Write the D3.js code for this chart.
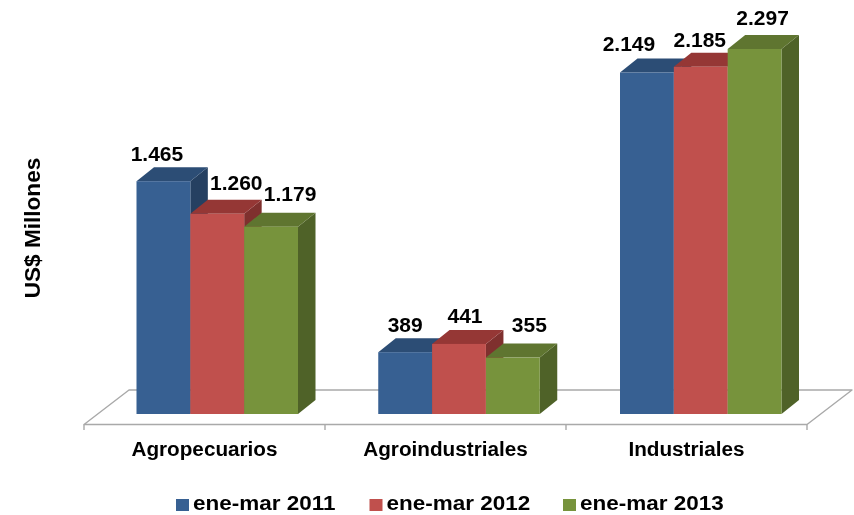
<!DOCTYPE html>
<html><head><meta charset="utf-8">
<script src="https://cdn.jsdelivr.net/npm/d3@7"></script>
<style>html,body{margin:0;padding:0;background:#fff}svg{display:block;filter:blur(0.35px)}text{font-family:"Liberation Sans",Arial,sans-serif;font-weight:bold;fill:#000}</style>
</head><body><svg id="c" width="854" height="515"></svg>
<script>
const categories = ["Agropecuarios","Agroindustriales","Industriales"];
const seriesNames = ["ene-mar 2011","ene-mar 2012","ene-mar 2013"];
const values2011 = [1465,389,2149];
const values2012 = [1260,441,2185];
const values2013 = [1179,355,2297];
const valueLabels2011 = ["1.465","389","2.149"];
const valueLabels2012 = ["1.260","441","2.185"];
const valueLabels2013 = ["1.179","355","2.297"];
const yAxisTitle = "US$ Millones";

// Layout and style (not data)
const frontColors = ["#376092","#c0504d","#77933c"];
const topColors = ["#2c4d75","#953735","#5f7530"];
const sideColors = ["#254061","#7f302e","#4f6228"];
const depthX = 17.5, depthY = 14;
const floorLeft = 84, floorRight = 807, floorFront = 424.5, floorBack = 390, floorDx = 45;
const baseY = 414;
// Nudges that reproduce where the source chart placed its data labels: [dx, baseline offset above the top of the front face]
const labelNudge = [
  [[-6.5,20],[19,24],[19,25.5]],
  [[0,20],[6,21],[16.5,26]],
  [[-18,22],[-1,20],[8,24]]
];

const svg = d3.select("#c");
const x0 = d3.scaleBand().domain(categories).range([floorLeft,floorRight]);
const xGroup = d3.scalePoint().domain(categories).range([136.5,620]);
const x1 = d3.scaleBand().domain(seriesNames).range([0,161.5]);
const y = d3.scaleLinear().domain([0,2297]).range([baseY,49]);
const allValues = [values2011,values2012,values2013];
const allLabels = [valueLabels2011,valueLabels2012,valueLabels2013];
// The source text is slightly wider than its height implies; stretch glyphs horizontally
const stretch = (sel,k) => sel.each(function(){
  const len = this.getComputedTextLength();
  d3.select(this).attr("textLength",len*k).attr("lengthAdjust","spacingAndGlyphs");
});

// Floor
const floor = svg.append("g").attr("fill","none").attr("stroke","#a9a9a9").attr("stroke-width",1.4);
floor.append("path").attr("stroke-linejoin","round")
  .attr("d",`M${floorLeft},${floorFront}L${floorLeft+floorDx},${floorBack}L${floorRight+floorDx},${floorBack}L${floorRight},${floorFront}Z`);

// X axis ticks and labels
const ticks = x0.domain().map(c=>x0(c)).concat([floorRight]);
floor.selectAll("line").data(ticks).join("line")
  .attr("x1",d=>d).attr("x2",d=>d).attr("y1",floorFront).attr("y2",430);
svg.append("g").selectAll("text").data(categories).join("text")
  .attr("x",c=>x0(c)+x0.bandwidth()/2).attr("y",455.5).attr("text-anchor","middle")
  .attr("font-size",20).text(c=>c).call(stretch,1.035);

// Bars
categories.forEach((c,ci)=>{
  const g = svg.append("g");
  seriesNames.forEach((s,si)=>{
    const xl = xGroup(c)+x1(s), w = x1.bandwidth(), xr = xl+w;
    const top = y(allValues[si][ci]);
    g.append("path").attr("fill",sideColors[si])
      .attr("d",`M${xr},${top}L${xr+depthX},${top-depthY}L${xr+depthX},${baseY-depthY}L${xr},${baseY}Z`);
    g.append("path").attr("fill",topColors[si])
      .attr("d",`M${xl},${top}L${xl+depthX},${top-depthY}L${xr+depthX},${top-depthY}L${xr},${top}Z`);
    g.append("rect").attr("x",xl).attr("y",top).attr("width",w).attr("height",baseY-top).attr("fill",frontColors[si]);
  });
});

// Data labels
categories.forEach((c,ci)=>{
  seriesNames.forEach((s,si)=>{
    const n = labelNudge[ci][si];
    svg.append("text")
      .attr("x",xGroup(c)+x1(s)+x1.bandwidth()/2+n[0])
      .attr("y",y(allValues[si][ci])-n[1])
      .attr("text-anchor","middle").attr("font-size",21).text(allLabels[si][ci]);
  });
});

// Y title
svg.append("text").attr("transform","translate(40,228) rotate(-90)")
  .attr("text-anchor","middle").attr("font-size",21.5).text(yAxisTitle).call(stretch,1.05);

// Legend
const legendX = d3.scalePoint().domain(seriesNames).range([176,563]);
const lg = svg.append("g").selectAll("g").data(seriesNames).join("g")
  .attr("transform",s=>`translate(${legendX(s)},0)`);
lg.append("rect").attr("x",0).attr("y",499).attr("width",13).attr("height",12)
  .attr("fill",(s,i)=>frontColors[i]);
lg.append("text").attr("x",17).attr("y",510.4).attr("font-size",21).text(s=>s).call(stretch,1.07);
</script></body></html>
